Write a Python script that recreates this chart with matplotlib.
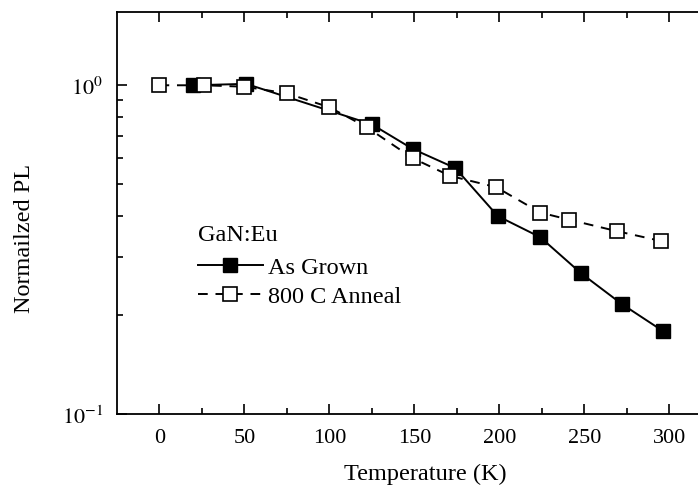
import numpy as np
import matplotlib
matplotlib.use("Agg")
import matplotlib.pyplot as plt
from matplotlib.ticker import LogLocator, NullFormatter, FixedLocator

plt.rcParams['font.family'] = ['Liberation Serif', 'DejaVu Serif']
plt.rcParams['mathtext.fontset'] = 'stix'

# data
temp_grown = [20, 51, 125, 149, 174, 199, 224, 248, 272, 296]
pl_grown = [1.0, 1.01, 0.76, 0.64, 0.56, 0.40, 0.345, 0.268, 0.216, 0.179]

temp_anneal = [0, 26, 50, 75, 100, 122, 149, 171, 198, 224, 241, 269, 295]
pl_anneal = [1.0, 1.0, 0.99, 0.945, 0.857, 0.745, 0.60, 0.53, 0.49, 0.41, 0.39, 0.36, 0.336]

xticks = [0, 50, 100, 150, 200, 250, 300]

fig = plt.figure(figsize=(6.98, 4.89), dpi=100)
ax = fig.add_axes([0.1676, 0.1513, 0.8524, 0.822])

ax.plot(temp_grown, pl_grown, '-', color='black', lw=1.4, marker='s',
        ms=10, mfc='black', mec='black', label='As Grown')
ax.plot(temp_anneal, pl_anneal, '--', color='black', lw=1.4, marker='s',
        ms=10, mfc='white', mec='black', mew=1.2, dashes=(5, 4), label='800 C Anneal')

ax.set_yscale('log')
ax.set_xlim(-25, 325)
ax.set_ylim(0.1, 1.67)

ax.set_xticks(xticks)
ax.xaxis.set_minor_locator(FixedLocator([25, 75, 125, 175, 225, 275]))
ax.yaxis.set_major_locator(FixedLocator([0.1, 1.0]))
ax.set_yticklabels([r'$10^{-1}$', r'$10^{0}$'])
ax.yaxis.set_minor_locator(LogLocator(base=10, subs=np.arange(2, 10)))
ax.yaxis.set_minor_formatter(NullFormatter())

ax.tick_params(which='both', direction='in', top=True, right=True,
               labelsize=16, width=1.2)
ax.tick_params(which='major', length=7, pad=10)
ax.tick_params(which='minor', length=4)
for s in ax.spines.values():
    s.set_linewidth(1.3)

ax.set_xlabel('Temperature (K)', fontsize=17.5)
ax.set_ylabel('Normailzed PL', fontsize=17.5)
ax.xaxis.set_label_coords(0.518, -0.122)
ax.yaxis.set_label_coords(-0.137, 0.44)

leg = ax.legend(title='GaN:Eu', loc='upper left', bbox_to_anchor=(0.107, 0.515),
                frameon=False, fontsize=17.5, title_fontsize=17.5,
                handlelength=2.7, handletextpad=0.2, labelspacing=0.3,
                borderpad=0.2)
leg._legend_box.align = 'left'
leg._legend_box.sep = 8

fig.savefig('out.png', dpi=100)
